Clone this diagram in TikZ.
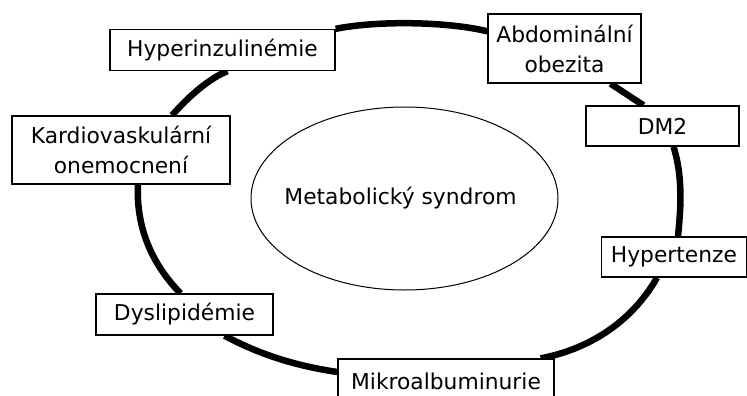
\documentclass[tikz,border=0pt]{standalone}
\usepackage{fontspec}
\setmainfont{DejaVu Sans}
\usetikzlibrary{shapes.geometric,backgrounds,calc}
\begin{document}
\begin{tikzpicture}[x=1pt,y=-1pt,
  lbl/.style={draw,line width=1.3pt,fill=white,inner sep=0pt,align=center,
    font=\fontsize{21.8}{30}\selectfont},
  ring/.style={line width=6.5pt}]
\useasboundingbox (0,0) rectangle (747,396);
\node[lbl,minimum width=225,minimum height=41] (hyp) at (222.5,50) {Hyperinzulinémie};
\node[lbl,minimum width=218,minimum height=68] (kar) at (121,150) {Kardiovaskulární\\onemocnení};
\node[lbl,minimum width=153,minimum height=69] (abd) at (564.5,48.5) {Abdominální\\obezita};
\node[lbl,minimum width=153,minimum height=40] (dm) at (662.5,126) {DM2};
\node[lbl,minimum width=145,minimum height=40] (hyt) at (674,257) {Hypertenze};
\node[lbl,minimum width=177,minimum height=41] (dys) at (184.5,314.5) {Dyslipidémie};
\node[lbl,minimum width=216,minimum height=44] (mik) at (446,381) {Mikroalbuminurie};
\node[draw,ellipse,line width=1pt,minimum width=307,minimum height=183,inner sep=0pt,
  label={[font=\fontsize{21.8}{30}\selectfont,xshift=-4pt]center:Metabolický syndrom}] (ms) at (404.5,198.5) {};
\begin{scope}[on background layer]
\draw[ring] (hyp.north east) .. controls (380,20) and (450,22) .. ($(abd.north west)+(0,18)$);
\draw[ring] ($(abd.south)+(46,0)$) -- ($(dm.north)+(-19,0)$);
\draw[ring] ($(dm.south)+(11,0)$) .. controls (684,180) and (680,215) .. ($(hyt.north)+(4,0)$);
\draw[ring] ($(hyt.south)+(-17,0)$) .. controls (630,325) and (585,350) .. ($(mik.north east)+(-14,0)$);
\draw[ring] ($(mik.west)+(0,-9)$) .. controls (290,365) and (255,352) .. ($(dys.south)+(40,0)$);
\draw[ring] ($(dys.north)+(-4,0)$) .. controls (150,262) and (136,225) .. ($(kar.south)+(17,0)$);
\draw[ring] ($(kar.north)+(51,0)$) .. controls (190,95) and (210,78) .. ($(hyp.south)+(5,0)$);
\end{scope}
\end{tikzpicture}
\end{document}
